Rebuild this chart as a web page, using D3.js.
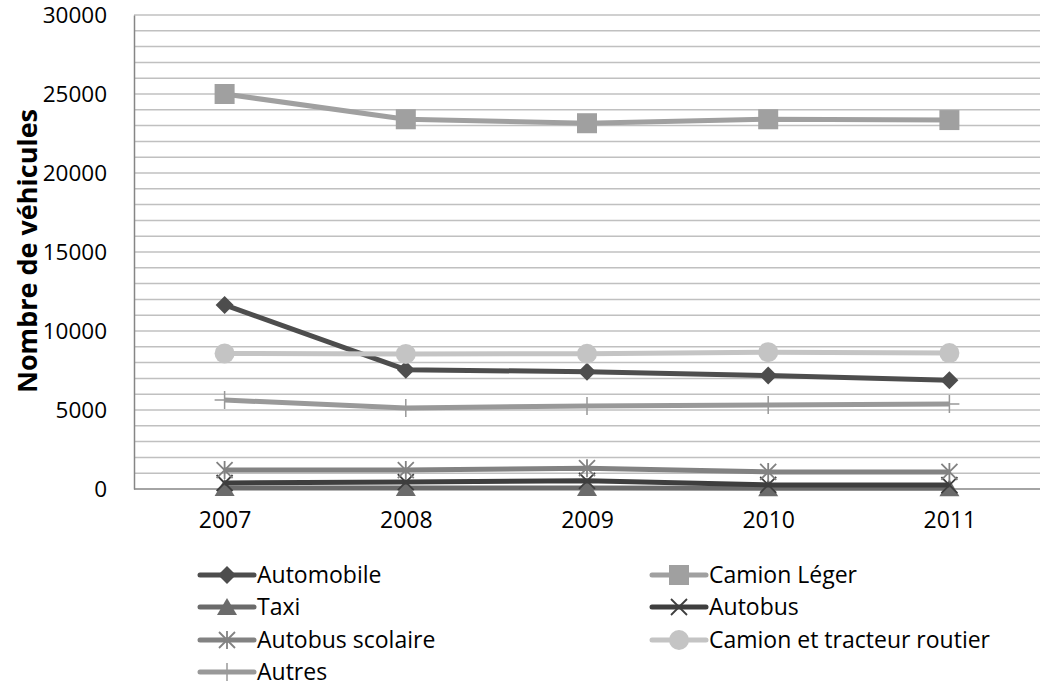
<!DOCTYPE html>
<html><head><meta charset="utf-8">
<script src="https://cdn.jsdelivr.net/npm/d3@7"></script>
<style>body{margin:0;background:#fff}svg{display:block;font-family:"Open Sans","Liberation Sans",sans-serif}</style>
</head><body><svg id="c" width="1040" height="694"></svg>
<script>
const years = ["2007","2008","2009","2010","2011"];
const yTicks = [0,5000,10000,15000,20000,25000,30000];
const automobile = [11650,7550,7420,7180,6880];
const camionLeger = [25000,23400,23150,23400,23350];
const taxi = [60,60,60,40,40];
const autobus = [380,440,520,260,250];
const autobusScolaire = [1200,1200,1320,1080,1080];
const camionTracteur = [8580,8550,8560,8660,8600];
const autres = [5630,5130,5260,5320,5380];

const series = [
 {name:"Automobile", vals:automobile, color:"#4d4d4d", marker:"diamond"},
 {name:"Camion Léger", vals:camionLeger, color:"#a0a0a0", marker:"square"},
 {name:"Taxi", vals:taxi, color:"#6b6b6b", marker:"triangle"},
 {name:"Autobus", vals:autobus, color:"#3e3e3e", marker:"x"},
 {name:"Autobus scolaire", vals:autobusScolaire, color:"#828282", marker:"star"},
 {name:"Camion et tracteur routier", vals:camionTracteur, color:"#c4c4c4", marker:"circle"},
 {name:"Autres", vals:autres, color:"#999999", marker:"plus"}
];

const FS = 23;
const svg = d3.select("#c");
const L=134, R=1040, T=15, B=489;
const x = d3.scalePoint().domain(years).range([L,R]).padding(0.5);
const y = d3.scaleLinear().domain([0,30000]).range([B,T]);

svg.append("g").selectAll("line").data(d3.range(1000,30001,1000)).join("line")
 .attr("x1",L).attr("x2",R).attr("y1",d=>y(d)).attr("y2",d=>y(d))
 .attr("stroke","#c0c0c0").attr("stroke-width",1.5);

const yAxis = d3.axisLeft(y).tickValues(yTicks).tickSize(0).tickPadding(27).tickFormat(d3.format("d"));
const gy = svg.append("g").attr("transform",`translate(${L},0)`).call(yAxis);
gy.select(".domain").attr("stroke","#868686").attr("stroke-width",1.5);
gy.selectAll("text").attr("font-size",22.5).attr("fill","#000").attr("font-family","Open Sans, sans-serif");

const xAxis = d3.axisBottom(x).tickSize(0).tickPadding(23);
const gx = svg.append("g").attr("transform",`translate(0,${B})`).call(xAxis);
gx.select(".domain").attr("stroke","#868686").attr("stroke-width",1.5).attr("d",`M${L},0H${R}`);
gx.selectAll("text").attr("font-size",FS).attr("fill","#000").attr("font-family","Open Sans, sans-serif");

svg.append("text").attr("transform",`translate(37,251) rotate(-90)`)
 .attr("text-anchor","middle").attr("font-weight","bold").attr("font-size",27).text("Nombre de véhicules");

function drawMarker(g, type, color){
  const s=8;
  if(type==="diamond") g.append("path").attr("d",`M0,${-s-1}L${s+1},0L0,${s+1}L${-s-1},0Z`).attr("fill",color);
  else if(type==="square") g.append("rect").attr("x",-10).attr("y",-10).attr("width",20).attr("height",20).attr("fill",color);
  else if(type==="triangle") g.append("path").attr("d",`M0,${-s-1}L${s+2},${s}L${-s-2},${s}Z`).attr("fill",color);
  else if(type==="circle") g.append("circle").attr("r",10).attr("fill",color);
  else if(type==="x") g.append("path").attr("d",`M${-s},${-s}L${s},${s}M${-s},${s}L${s},${-s}`).attr("stroke",color).attr("stroke-width",1.8);
  else if(type==="star") g.append("path").attr("d",`M${-s},${-s}L${s},${s}M${-s},${s}L${s},${-s}M0,${-s-1}V${s+1}`).attr("stroke",color).attr("stroke-width",1.8);
  else if(type==="plus") g.append("path").attr("d",`M${-s-2},0H${s+2}M0,${-s-1}V${s+1}`).attr("stroke",color).attr("stroke-width",1.5);
}

const line = d3.line().x((d,i)=>x(years[i])).y(d=>y(d));
series.forEach(s=>{
  svg.append("path").attr("d",line(s.vals)).attr("fill","none").attr("stroke",s.color).attr("stroke-width",5).attr("stroke-linejoin","round");
  s.vals.forEach((v,i)=>{
    const g=svg.append("g").attr("transform",`translate(${x(years[i])},${y(v)})`);
    drawMarker(g,s.marker,s.color);
  });
});

const legPos = [[198,575],[650,575],[198,607],[650,607],[198,640],[650,640],[198,672]];
series.forEach((s,i)=>{
  const [lx,ly]=legPos[i];
  const g=svg.append("g");
  g.append("line").attr("x1",lx+2).attr("x2",lx+56).attr("y1",ly).attr("y2",ly).attr("stroke",s.color).attr("stroke-width",5).attr("stroke-linecap","round");
  const m=g.append("g").attr("transform",`translate(${lx+29},${ly})`);
  drawMarker(m,s.marker,s.color);
  g.append("text").attr("x",lx+59).attr("y",ly+8).attr("font-size",FS).text(s.name);
});
</script></body></html>
